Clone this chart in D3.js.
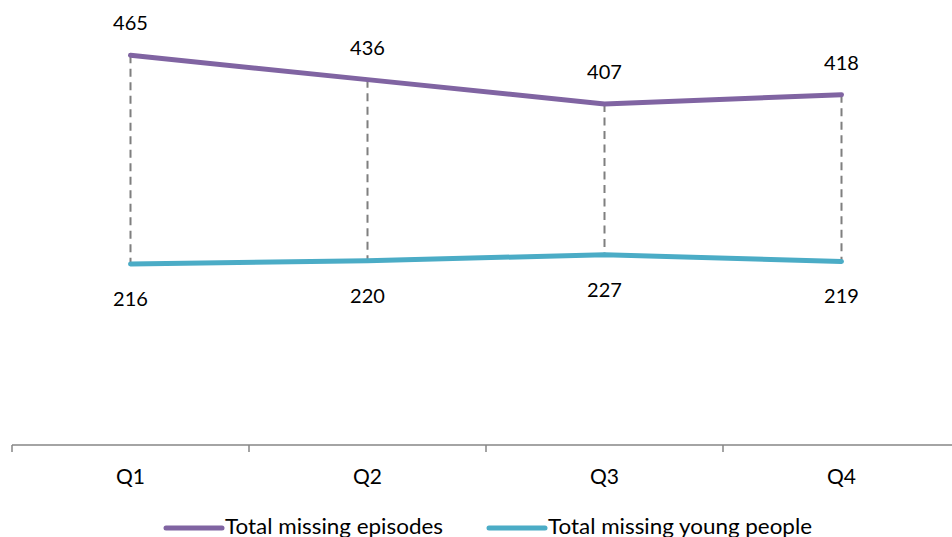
<!DOCTYPE html>
<html>
<head>
<meta charset="utf-8">
<script src="https://cdn.jsdelivr.net/npm/d3@7"></script>
<style>
  body { margin: 0; background: #fff; }
  text { font-family: Lato, "Open Sans", sans-serif; fill: #000; }
</style>
</head>
<body>
<svg id="chart" width="952" height="537"></svg>
<script>
var quarters = ['Q1', 'Q2', 'Q3', 'Q4'];
var episodes = [465, 436, 407, 418];
var youngPeople = [216, 220, 227, 219];
var seriesNames = ['Total missing episodes', 'Total missing young people'];

var purple = '#8064a2', teal = '#4bacc6';

var svg = d3.select('#chart');

var x = d3.scaleBand().domain(quarters).range([12, 960]);
var y = d3.scaleLinear().domain([0, 500]).range([445, 26]);

// category axis
var xAxis = d3.axisBottom(x).tickSize(0).tickPadding(0).tickFormat('');
var gx = svg.append('g').attr('transform', 'translate(0,445)').call(xAxis);
gx.select('.domain').attr('stroke', '#868686').attr('stroke-width', 1.5).attr('d', 'M12,0H960');

var bounds = x.domain().map(function(q) { return x(q); }).concat([x(quarters[3]) + x.bandwidth()]);
gx.selectAll('.bound').data(bounds).enter().append('line')
    .attr('x1', function(d) { return d; }).attr('x2', function(d) { return d; })
    .attr('y1', 0).attr('y2', 7)
    .attr('stroke', '#868686').attr('stroke-width', 1.5);

svg.selectAll('.qlabel').data(quarters).enter().append('text')
    .attr('x', function(d) { return x(d) + x.bandwidth() / 2; })
    .attr('y', 484)
    .attr('text-anchor', 'middle')
    .style('font-size', '21px')
    .text(function(d) { return d; });

var cx = function(i) { return x(quarters[i]) + x.bandwidth() / 2; };

// drop lines
svg.selectAll('.drop').data(quarters).enter().append('line')
    .attr('x1', function(d, i) { return cx(i); }).attr('x2', function(d, i) { return cx(i); })
    .attr('y1', function(d, i) { return y(episodes[i]); })
    .attr('y2', function(d, i) { return y(youngPeople[i]); })
    .attr('stroke', '#7f7f7f').attr('stroke-width', 2)
    .attr('stroke-dasharray', '8,5.5');

var line = d3.line().x(function(d, i) { return cx(i); }).y(function(d) { return y(d); });

svg.append('path').datum(episodes).attr('d', line)
    .attr('fill', 'none').attr('stroke', purple).attr('stroke-width', 5).attr('stroke-linecap', 'round');
svg.append('path').datum(youngPeople).attr('d', line)
    .attr('fill', 'none').attr('stroke', teal).attr('stroke-width', 5).attr('stroke-linecap', 'round');

svg.selectAll('.lab1').data(episodes).enter().append('text')
    .attr('x', function(d, i) { return cx(i); })
    .attr('y', function(d) { return y(d) - 25; })
    .attr('text-anchor', 'middle').style('font-size', '20px')
    .text(function(d) { return d; });

svg.selectAll('.lab2').data(youngPeople).enter().append('text')
    .attr('x', function(d, i) { return cx(i); })
    .attr('y', function(d) { return y(d) + 42; })
    .attr('text-anchor', 'middle').style('font-size', '20px')
    .text(function(d) { return d; });

// legend
var legend = svg.append('g');
var legX = [166, 489], legW = [218, 264], legCol = [purple, teal];
seriesNames.forEach(function(name, i) {
    legend.append('line')
        .attr('x1', legX[i]).attr('x2', legX[i] + 56)
        .attr('y1', 528).attr('y2', 528)
        .attr('stroke', legCol[i]).attr('stroke-width', 5).attr('stroke-linecap', 'round');
    legend.append('text')
        .attr('x', legX[i] + 59).attr('y', 534)
        .attr('textLength', legW[i]).attr('lengthAdjust', 'spacingAndGlyphs')
        .style('font-size', '21px')
        .text(name);
});
</script>
</body>
</html>
